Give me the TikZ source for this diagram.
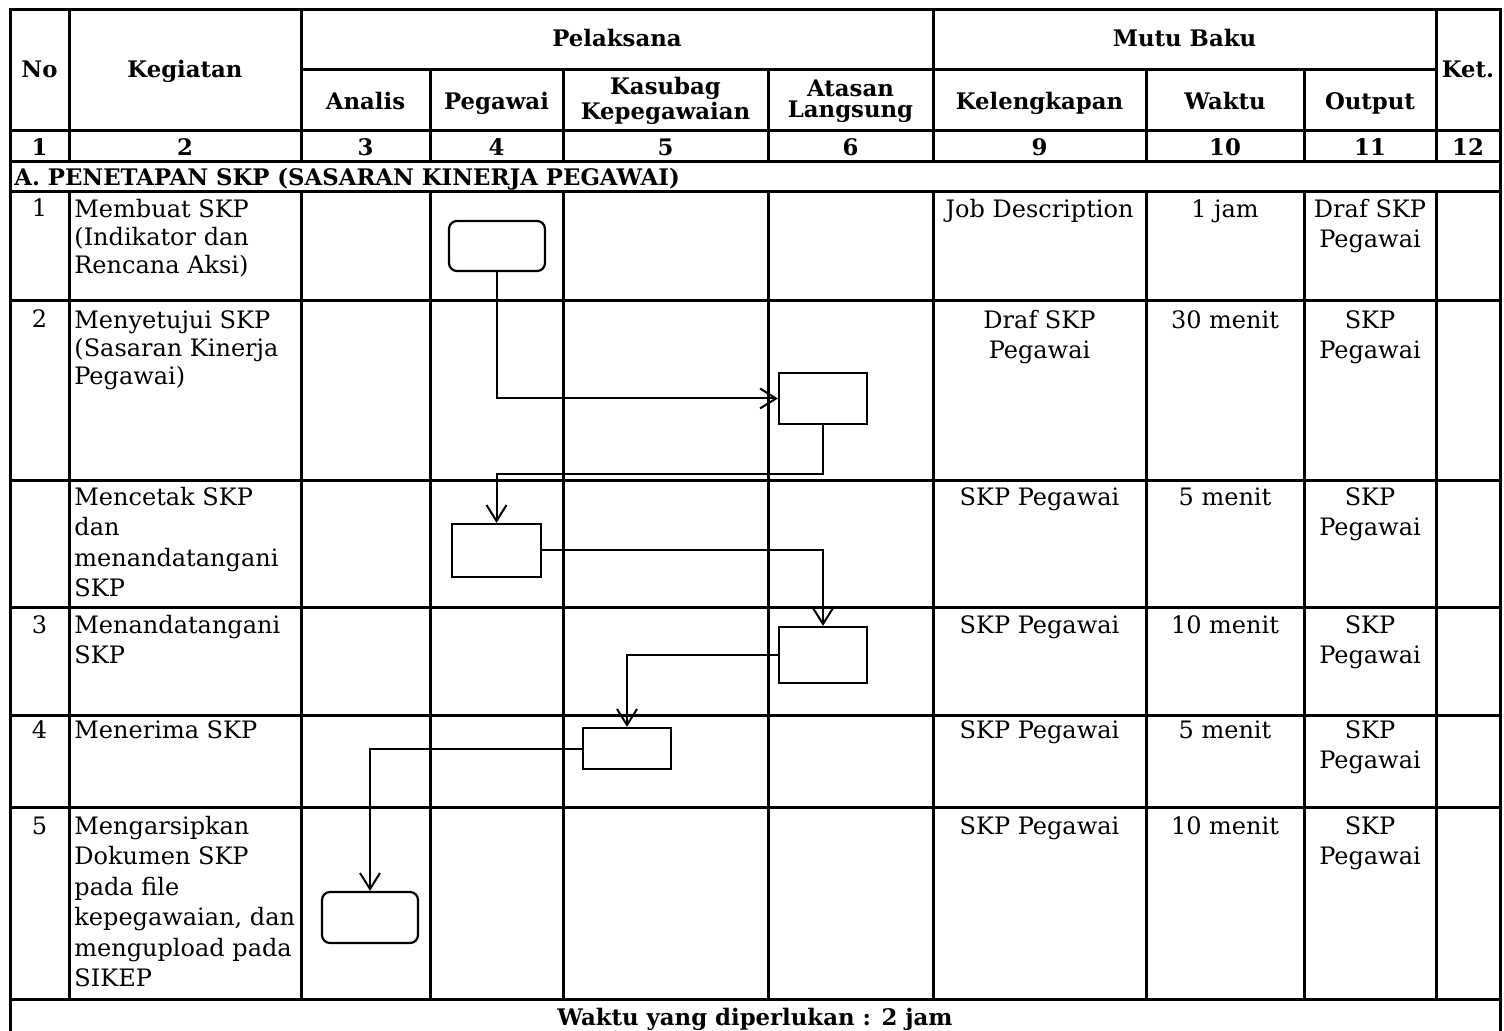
\documentclass[tikz,border=0pt]{standalone}
\usepackage{fontspec}
\setmainfont{DejaVu Serif}
\usetikzlibrary{arrows.meta}
\newcommand\cellstrut{\rule{0pt}{10pt}}
\begin{document}
\begin{tikzpicture}[x=0.5pt,y=-0.5pt,
  grid/.style={line width=1.5pt, line cap=rect},
  body/.style={inner sep=0pt, font=\fontsize{12}{14}\selectfont},
  bodyb/.style={inner sep=0pt, font=\fontsize{12}{15.25}\selectfont},
  lft/.style={anchor=north west, align=left},
  ctr/.style={anchor=north, align=center},
  hd/.style={inner sep=0pt, font=\bfseries\fontsize{11.4}{10.3}\selectfont, align=center},
  proc/.style={draw, line width=1.1pt, inner sep=0pt},
  term/.style={draw, line width=1.1pt, rounded corners=4pt, inner sep=0pt, minimum width=48pt, minimum height=25pt},
  flow/.style={line width=1pt, -{Straight Barb[length=8pt,width=10pt,line width=1pt]}}
]
\useasboundingbox (0,0) rectangle (1504,1031);
\fill[white] (0,0) rectangle (1504,1031);

% ---------- grid ----------
\draw[grid] (10,1031) -- (10,10) -- (1500,10) -- (1500,1031);
\draw[grid] (301,70) -- (1436,70);
\foreach \yy in {131,162,192,301,481,607,715,807,999}
  \draw[grid] (10,\yy) -- (1500,\yy);
\foreach \xx in {69,301,933,1436}
  {\draw[grid] (\xx,10) -- (\xx,162); \draw[grid] (\xx,192) -- (\xx,999);}
\foreach \xx in {430,563,768,1146,1304}
  {\draw[grid] (\xx,70) -- (\xx,162); \draw[grid] (\xx,192) -- (\xx,999);}

% ---------- header ----------
\node[hd, anchor=base] (hNo) at (39.5,78) {No};
\node[hd, anchor=base] (hKeg) at (185,78) {Kegiatan};
\node[hd, anchor=base] (hPel) at (617,46.7) {Pelaksana};
\node[hd, anchor=base] (hMutu) at (1184.5,46.7) {Mutu Baku};
\node[hd, anchor=base] (hKet) at (1468,78) {Ket.};
\node[hd, anchor=base] (hAna) at (365.5,110) {Analis};
\node[hd, anchor=base] (hPeg) at (496.5,110) {Pegawai};
\node[hd, anchor=center] (hKas) at (665.5,101) {Kasubag\\Kepegawaian};
\node[hd, anchor=center] (hAta) at (850.5,101) {Atasan\\Langsung};
\node[hd, anchor=base] (hKel) at (1039.5,110) {Kelengkapan};
\node[hd, anchor=base] (hWak) at (1225,110) {Waktu};
\node[hd, anchor=base] (hOut) at (1370,110) {Output};

\foreach \xx/\tt [count=\i] in {39.5/1,185/2,365.5/3,496.5/4,665.5/5,850.5/6,1039.5/9,1225/10,1370/11,1468/12}
  \node[hd, anchor=base] (num\i) at (\xx,156) {\tt};

\node[hd, anchor=base west] (sect) at (14,186) {A. PENETAPAN SKP (SASARAN KINERJA PEGAWAI)};

% ---------- rows ----------
% Row 1
\node[body, anchor=base] (no1) at (39.5,217) {1};
\node[body, lft] (keg1) at (74,197) {\cellstrut Membuat SKP\\(Indikator dan\\Rencana Aksi)};
\node[body, ctr] (kel1) at (1039.5,197) {\cellstrut Job Description};
\node[body, ctr] (wak1) at (1225,197) {\cellstrut 1 jam};
\node[bodyb, ctr] (out1) at (1370,197) {\cellstrut Draf SKP\\Pegawai};
% Row 2
\node[body, anchor=base] (no2) at (39.5,328) {2};
\node[body, lft] (keg2) at (74,308) {\cellstrut Menyetujui SKP\\(Sasaran Kinerja\\Pegawai)};
\node[bodyb, ctr] (kel2) at (1039.5,308) {\cellstrut Draf SKP\\Pegawai};
\node[body, ctr] (wak2) at (1225,308) {\cellstrut 30 menit};
\node[bodyb, ctr] (out2) at (1370,308) {\cellstrut SKP\\Pegawai};
% Row 3
\node[bodyb, lft] (keg3) at (74,485) {\cellstrut Mencetak SKP\\dan\\menandatangani\\SKP};
\node[bodyb, ctr] (kel3) at (1039.5,485) {\cellstrut SKP Pegawai};
\node[bodyb, ctr] (wak3) at (1225,485) {\cellstrut 5 menit};
\node[bodyb, ctr] (out3) at (1370,485) {\cellstrut SKP\\Pegawai};
% Row 4
\node[body, anchor=base] (no4) at (39.5,633) {3};
\node[bodyb, lft] (keg4) at (74,613) {\cellstrut Menandatangani\\SKP};
\node[bodyb, ctr] (kel4) at (1039.5,613) {\cellstrut SKP Pegawai};
\node[bodyb, ctr] (wak4) at (1225,613) {\cellstrut 10 menit};
\node[bodyb, ctr] (out4) at (1370,613) {\cellstrut SKP\\Pegawai};
% Row 5
\node[body, anchor=base] (no5) at (39.5,738) {4};
\node[bodyb, lft] (keg5) at (74,718) {\cellstrut Menerima SKP};
\node[bodyb, ctr] (kel5) at (1039.5,718) {\cellstrut SKP Pegawai};
\node[bodyb, ctr] (wak5) at (1225,718) {\cellstrut 5 menit};
\node[bodyb, ctr] (out5) at (1370,718) {\cellstrut SKP\\Pegawai};
% Row 6
\node[body, anchor=base] (no6) at (39.5,834) {5};
\node[bodyb, lft] (keg6) at (74,814) {\cellstrut Mengarsipkan\\Dokumen SKP\\pada file\\kepegawaian, dan\\mengupload pada\\SIKEP};
\node[bodyb, ctr] (kel6) at (1039.5,814) {\cellstrut SKP Pegawai};
\node[bodyb, ctr] (wak6) at (1225,814) {\cellstrut 10 menit};
\node[bodyb, ctr] (out6) at (1370,814) {\cellstrut SKP\\Pegawai};

% footer
\node[hd, anchor=base] (foot) at (755,1025) {Waktu yang diperlukan : 2 jam};

% ---------- flow shapes ----------
\node[term] (s1) at (497,246) {};
\node[proc, minimum width=44pt, minimum height=25.5pt] (s2) at (823,398.5) {};
\node[proc, minimum width=44.5pt, minimum height=26.5pt] (s3) at (496.5,550.5) {};
\node[proc, minimum width=44pt, minimum height=28pt] (s4) at (823,655) {};
\node[proc, minimum width=44pt, minimum height=20.5pt] (s5) at (627,748.5) {};
\node[term, minimum height=25.5pt] (s6) at (370,917.5) {};

\coordinate (k2) at (823,474);
\draw[flow] (s1.south) |- (s2.west);
\draw[flow] (s2.south) -- (k2) -| (s3.north);
\draw[flow] (s3.east) -| (s4.north);
\draw[flow] (s4.west) -| (s5.north);
\draw[flow] (s5.west) -| (s6.north);
\end{tikzpicture}
\end{document}
